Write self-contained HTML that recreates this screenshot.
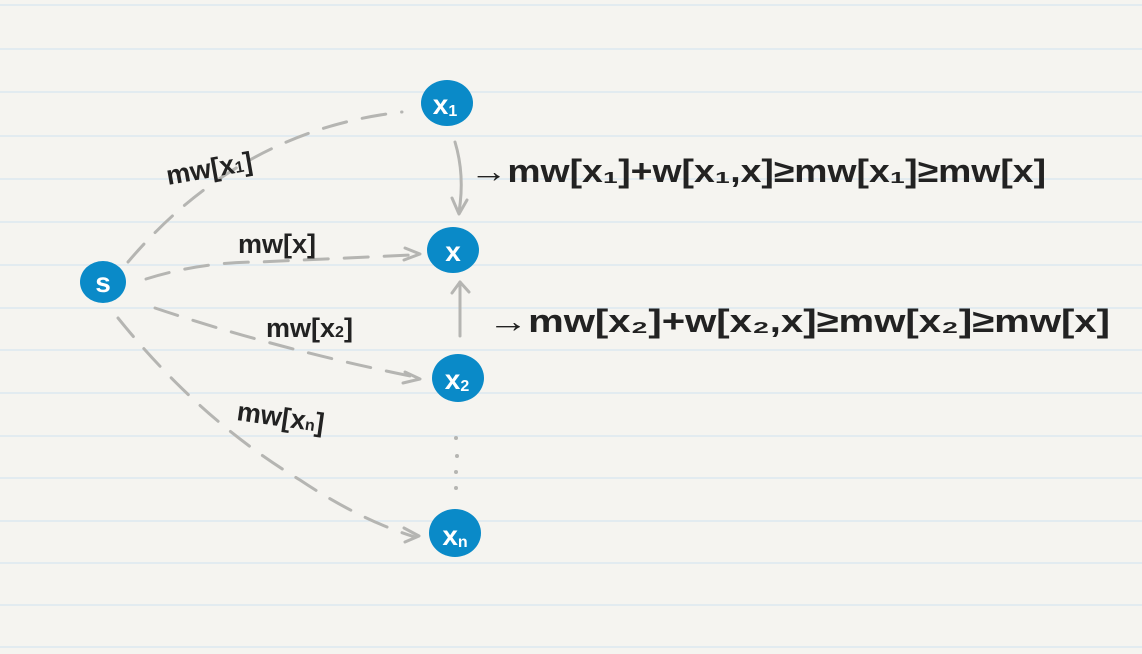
<!DOCTYPE html>
<html><head><meta charset="utf-8"><style>
html,body{margin:0;padding:0;background:#f5f4f0;}
svg{display:block}
</style></head><body>
<svg width="1142" height="654" viewBox="0 0 1142 654" xmlns="http://www.w3.org/2000/svg">
<rect width="1142" height="654" fill="#f5f4f0"/>
<g stroke="#d6e5f0" stroke-width="1.2">
<line x1="0" y1="5" x2="1142" y2="5"/><line x1="0" y1="49" x2="1142" y2="49"/>
<line x1="0" y1="92" x2="1142" y2="92"/><line x1="0" y1="136" x2="1142" y2="136"/>
<line x1="0" y1="179" x2="1142" y2="179"/><line x1="0" y1="222" x2="1142" y2="222"/>
<line x1="0" y1="265" x2="1142" y2="265"/><line x1="0" y1="308" x2="1142" y2="308"/>
<line x1="0" y1="350" x2="1142" y2="350"/><line x1="0" y1="393" x2="1142" y2="393"/>
<line x1="0" y1="436" x2="1142" y2="436"/><line x1="0" y1="478" x2="1142" y2="478"/>
<line x1="0" y1="521" x2="1142" y2="521"/><line x1="0" y1="563" x2="1142" y2="563"/>
<line x1="0" y1="605" x2="1142" y2="605"/><line x1="0" y1="647" x2="1142" y2="647"/>
</g>
<g fill="none" stroke="#b5b5b2" stroke-width="3" stroke-linecap="round" stroke-dasharray="24 16">
<path d="M128 262 Q240 130 402 112"/>
<path d="M146 279 Q200 262 260 262 L410 255"/>
<path d="M155 308 Q280 350 420 378"/>
<path d="M118 318 Q200 420 300 480 Q360 520 415 537"/>
</g>
<g fill="none" stroke="#b5b5b2" stroke-width="3" stroke-linecap="round" stroke-linejoin="round">
<path d="M405 248 L420 254 L404 260"/>
<path d="M405 372 L420 379 L403 383"/>
<path d="M404 528 L419 536 L405 542"/>
<path d="M455 142 Q465 175 459 212"/>
<path d="M452 198 L459 214 L467 200"/>
<path d="M460 336 L460 282"/>
<path d="M452 293 L460 282 L469 292"/>
</g>
<g fill="#b5b5b2"><circle cx="456" cy="438" r="2"/><circle cx="457" cy="456" r="2"/><circle cx="456" cy="472" r="2"/><circle cx="456" cy="488" r="2"/></g>
<g fill="#0a8ac8">
<ellipse cx="103" cy="282" rx="23" ry="21"/>
<ellipse cx="447" cy="103" rx="26" ry="23"/>
<ellipse cx="453" cy="250" rx="26" ry="23"/>
<ellipse cx="458" cy="378" rx="26" ry="24"/>
<ellipse cx="455" cy="533" rx="26" ry="24"/>
</g>
<g fill="#fff" font-family="Liberation Sans, sans-serif" font-weight="bold" text-anchor="middle">
<text x="103" y="292" font-size="28">s</text>
<text x="445" y="114" font-size="28">x<tspan font-size="16" dy="2">1</tspan></text>
<text x="453" y="261" font-size="28">x</text>
<text x="457" y="389" font-size="28">x<tspan font-size="16" dy="2">2</tspan></text>
<text x="455" y="545" font-size="28">x<tspan font-size="16" dy="2">n</tspan></text>
</g>
<g fill="#222" font-family="Liberation Sans, sans-serif" font-weight="bold">
<text x="168" y="185" font-size="27" transform="rotate(-10 168 185)">mw[x<tspan font-size="16">1</tspan>]</text>
<text x="238" y="253" font-size="27">mw[x]</text>
<text x="266" y="337" font-size="27">mw[x<tspan font-size="16">2</tspan>]</text>
<text x="236" y="420" font-size="27" transform="rotate(8 236 420)">mw[x<tspan font-size="16">n</tspan>]</text>
<text x="470" y="182" font-size="32" textLength="576" lengthAdjust="spacingAndGlyphs">→mw[x₁]+w[x₁,x]≥mw[x₁]≥mw[x]</text>
<text x="488" y="332" font-size="32" textLength="622" lengthAdjust="spacingAndGlyphs">→mw[x₂]+w[x₂,x]≥mw[x₂]≥mw[x]</text>
</g>
</svg>
</body></html>
